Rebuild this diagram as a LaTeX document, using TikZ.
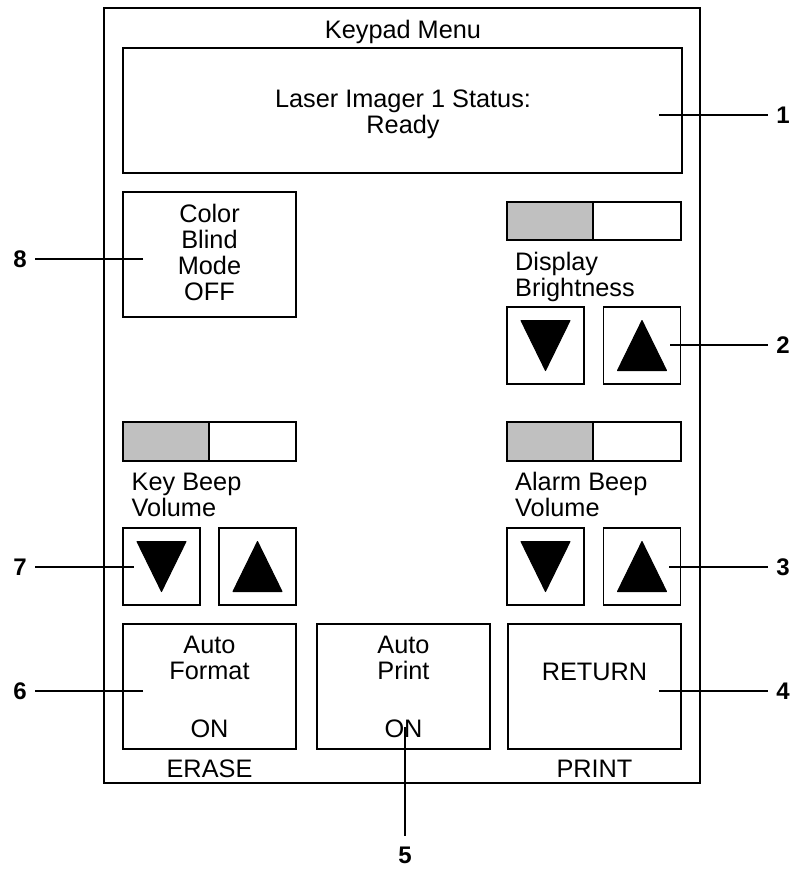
\documentclass[tikz,border=0pt]{standalone}
\usepackage{fontspec}
\setmainfont{Liberation Sans}
\definecolor{slidergray}{RGB}{192,192,192}
\begin{document}
\begin{tikzpicture}[x=1pt,y=-1pt,
  box/.style={draw,line width=1.6pt,inner sep=0pt},
  key/.style={box,minimum width=77pt,minimum height=77pt},
  panel/.style={box,minimum width=173pt,minimum height=125pt},
  txt/.style={font=\fontsize{25.3}{26}\selectfont,inner sep=0pt,align=center,anchor=base},
  ltxt/.style={txt,align=left,anchor=base west},
  num/.style={font=\fontsize{24}{26}\selectfont\bfseries,inner xsep=8pt,inner ysep=10pt},
  leader/.style={line width=1.6pt},
  tri/.style={fill=black,draw,line width=1pt,line join=round}]
\useasboundingbox (0,0) rectangle (795,871);
\draw[line width=1.6pt] (104,8) rectangle (700,783);
\node[txt] (title) at (403,38) {Keypad Menu};
% status display (base = last line)
\node[box,minimum width=559pt,minimum height=125pt] (status) at (402.5,110.5) {};
\node[txt] (statustxt) at (403,133) {Laser Imager 1 Status:\\Ready};
% color blind mode
\node[panel] (blind) at (209.5,254.5) {};
\node[txt] (blindtxt) at (209.5,300) {Color\\Blind\\Mode\\OFF};
% display brightness
\node[box,fill=slidergray,minimum width=86pt,minimum height=38pt] (dbar) at (550,221) {};
\node[box,minimum width=88pt,minimum height=38pt] (dbarw) at (637,221) {};
\node[ltxt] (dtxt) at (515,296) {Display\\Brightness};
\node[key] (ddown) at (545.5,345.5) {};
\node[key] (dup) at (642,345.5) {};
\filldraw[tri] (ddown.center) ++(-24.5,-25) -- ++(49,0) -- ++(-24.5,50) -- cycle;
\filldraw[tri] (dup.center) ++(0,-25) -- ++(24.5,50) -- ++(-49,0) -- cycle;
% key beep volume
\node[box,fill=slidergray,minimum width=86pt,minimum height=39pt] (kbar) at (166,441.5) {};
\node[box,minimum width=87pt,minimum height=39pt] (kbarw) at (252.5,441.5) {};
\node[ltxt] (ktxt) at (131.5,516) {Key Beep\\Volume};
\node[key] (kdown) at (161.5,566.5) {};
\node[key] (kup) at (257.5,566.5) {};
\filldraw[tri] (kdown.center) ++(-24.5,-25) -- ++(49,0) -- ++(-24.5,50) -- cycle;
\filldraw[tri] (kup.center) ++(0,-25) -- ++(24.5,50) -- ++(-49,0) -- cycle;
% alarm beep volume
\node[box,fill=slidergray,minimum width=86pt,minimum height=39pt] (abar) at (550,441.5) {};
\node[box,minimum width=88pt,minimum height=39pt] (abarw) at (637,441.5) {};
\node[ltxt] (atxt) at (515,516) {Alarm Beep\\Volume};
\node[key] (adown) at (545.5,566.5) {};
\node[key] (aup) at (642,566.5) {};
\filldraw[tri] (adown.center) ++(-24.5,-25) -- ++(49,0) -- ++(-24.5,50) -- cycle;
\filldraw[tri] (aup.center) ++(0,-25) -- ++(24.5,50) -- ++(-49,0) -- cycle;
% bottom keys
\node[panel] (format) at (209.5,686.5) {};
\node[txt] (formattxt) at (209.5,679) {Auto\\Format};
\node[txt] (formaton) at (209.5,737) {ON};
\node[panel] (print) at (403.5,686.5) {};
\node[txt] (printtxt) at (403.5,679) {Auto\\Print};
\node[txt] (printon) at (403.5,737) {ON};
\node[panel] (return) at (594.5,686.5) {};
\node[txt] (returntxt) at (594.5,680) {RETURN};
\node[txt] (erase) at (209.5,777) {ERASE};
\node[txt] (printlbl) at (594.5,777) {PRINT};
% callouts
\coordinate (p1) at (659,115);
\coordinate (p2) at (670,345);
\coordinate (p3) at (669,567);
\coordinate (p4) at (659,691);
\coordinate (p5) at (405,727);
\coordinate (p6) at (143,691);
\coordinate (p7) at (133.5,567);
\coordinate (p8) at (143,259);
\node[num] (n1) at (783,115) {1};
\node[num] (n2) at (783,345) {2};
\node[num] (n3) at (783,567) {3};
\node[num] (n4) at (783,691) {4};
\node[num] (n5) at (405,855) {5};
\node[num] (n6) at (20,691) {6};
\node[num] (n7) at (20,567) {7};
\node[num] (n8) at (20,259) {8};
\draw[leader] (p1) -- (n1);
\draw[leader] (p2) -- (n2);
\draw[leader] (p3) -- (n3);
\draw[leader] (p4) -- (n4);
\draw[leader] (p5) -- (n5);
\draw[leader] (p6) -- (n6);
\draw[leader] (p7) -- (n7);
\draw[leader] (p8) -- (n8);
\end{tikzpicture}
\end{document}
